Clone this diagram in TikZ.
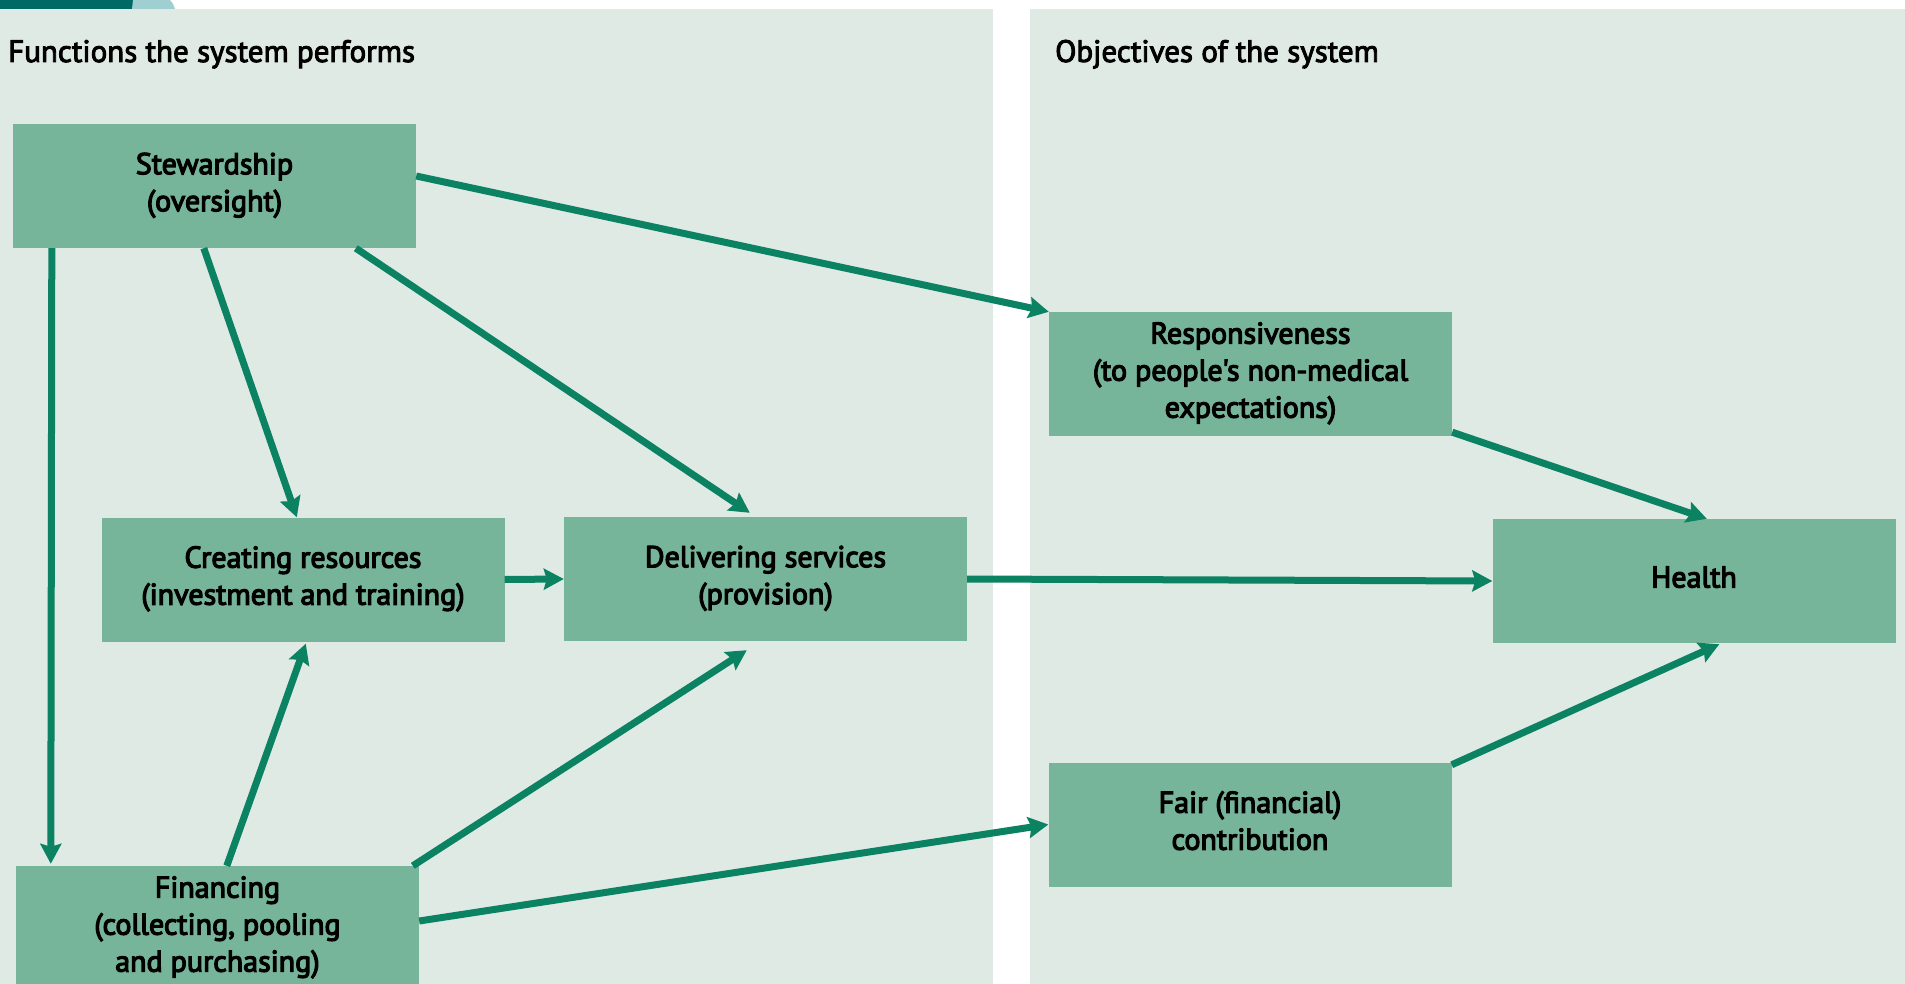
\documentclass[tikz,border=0pt]{standalone}
\usepackage{fontspec}
\setmainfont{PT Sans}[Ligatures=TeXOff]
\usetikzlibrary{arrows.meta,calc}
\definecolor{panelbg}{HTML}{E0EAE5}
\definecolor{boxfill}{HTML}{77B59A}
\definecolor{arrowc}{HTML}{0B8262}
\definecolor{darkteal}{HTML}{006966}
\definecolor{lightteal}{HTML}{9FCFD1}
\begin{document}
\begin{tikzpicture}[x=1pt,y=-1pt,
  box/.style={fill=boxfill, minimum width=403pt, minimum height=124pt, inner sep=0pt, align=center,
    text depth=8pt, font=\fontsize{30}{37}\selectfont\addfontfeatures{FakeBold=4}},
  conn/.style={draw=arrowc, line width=7pt, -{Stealth[length=20pt,width=21pt,inset=3pt]}},
  title/.style={anchor=base west, inner sep=0pt, font=\fontsize{31}{37}\selectfont\addfontfeatures{FakeBold=3}}]
\useasboundingbox (0,0) rectangle (1905,984);
\clip (0,0) rectangle (1905,984);
\fill[white] (0,0) rectangle (1905,984);
\fill[panelbg] (0,9) rectangle (993,984);
\fill[panelbg] (1030,9) rectangle (1905,984);
\fill[darkteal] (0,0) rectangle (133,9);
\fill[lightteal] (133,0) -- (170,0) .. controls (173,3) and (174,6) .. (175,9) -- (132,9) -- cycle;

\node[title] (t1) at (8,62) {Functions the system performs};
\node[title] (t2) at (1055,62) {Objectives of the system};

\node[box] (stew) at (214.5,186) {Stewardship\\(oversight)};
\node[box] (creat) at (303,579.5) {Creating resources\\(investment and training)};
\node[box] (deliv) at (765.5,579) {Delivering services\\(provision)};
\node[box] (fin) at (217.5,928) {Financing\\(collecting, pooling\\and purchasing)};
\node[box] (resp) at (1250.5,374) {Responsiveness\\(to people's non-medical\\expectations)};
\node[box] (health) at (1694,581) {Health};
\node[box] (fair) at (1250,824.5) {Fair (financial)\\contribution};

\draw[conn] ($(stew.east)+(0,-10)$) -- (resp.north west);
\draw[conn] ($(stew.south west)+(191,0)$) -- ($(creat.north west)+(195.5,0)$);
\draw[conn] ($(stew.south west)+(343,0)$) -- ($(deliv.north west)+(186,-4)$);
\draw[conn] ($(stew.south west)+(39,0)$) -- ($(fin.north west)+(35,-2)$);
\draw[conn] (creat.east) -- (deliv.west);
\draw[conn] ($(fin.north west)+(211,0)$) -- ($(creat.south west)+(204.5,2)$);
\draw[conn] ($(fin.north west)+(397,0)$) -- ($(deliv.south west)+(183,9)$);
\draw[conn] ($(fin.east)+(0,-7)$) -- (fair.west);
\draw[conn] (deliv.east) -- (health.west);
\draw[conn] ($(resp.south east)+(0,-4)$) -- ($(health.north west)+(214.5,0)$);
\draw[conn] ($(fair.north east)+(0,2.5)$) -- ($(health.south west)+(227,1)$);
\end{tikzpicture}
\end{document}
